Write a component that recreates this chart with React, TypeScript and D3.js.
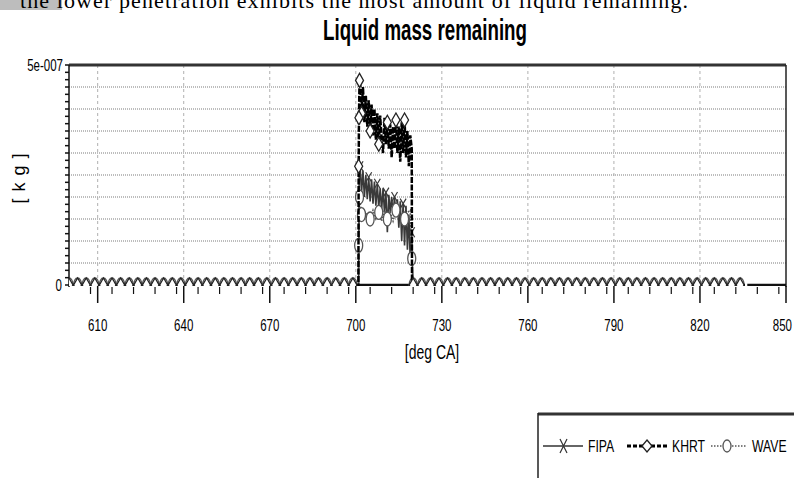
import React, { useEffect, useRef } from 'react';
import * as d3 from 'd3';

// values in 1e-7 kg, x in deg CA
const khrtPoints: [number, number][] = [
  [600, 0], [700.9, 0], [701.0, 2.7], [701.1, 3.8], [701.3, 4.65],
  [701.5, 4.6], [702, 3.9], [702.5, 4.5], [703, 3.7], [703.5, 4.3], [704, 3.6],
  [704.5, 4.2], [705, 3.5], [705.5, 4.1], [706, 3.4], [706.5, 4.0], [707, 3.3],
  [707.5, 3.9], [708, 3.2], [708.5, 3.85], [709, 3.3], [709.5, 3.0], [710, 3.8],
  [710.5, 3.2], [711, 3.7], [711.5, 3.1], [712, 3.65], [712.5, 2.9], [713, 3.6],
  [713.5, 3.1], [714, 3.75], [714.5, 3.0], [715, 3.6], [715.5, 2.8], [716, 3.7],
  [716.5, 3.0], [717, 3.75], [717.5, 2.9], [718, 3.5], [718.5, 2.7], [719, 3.4],
  [719.5, 3.1], [719.6, 0], [836, 0],
];

const fipaPoints: [number, number][] = [
  [701.0, 0], [701.2, 2.8], [701.5, 2.7], [702, 2.1], [702.5, 2.6], [703, 2.0],
  [703.5, 2.5], [704, 1.95], [704.5, 2.45], [705, 1.9], [705.5, 2.4], [706, 1.85],
  [706.5, 2.35], [707, 1.8], [707.5, 2.3], [708, 1.75], [708.5, 2.2], [709, 1.7],
  [709.5, 2.2], [710, 1.65], [710.5, 2.1], [711, 1.2], [711.5, 2.05], [712, 1.65],
  [712.5, 2.0], [713, 1.6], [713.5, 2.0], [714, 1.55], [714.5, 1.95], [715, 1.3],
  [715.5, 1.9], [716, 1.0], [716.5, 1.85], [717, 0.9], [717.5, 1.8], [718, 0.8],
  [718.5, 1.6], [719, 0.5], [719.5, 1.2], [719.8, 0.3], [720, 0],
];
// spans where FIPA sits on zero
const fipaZeroSpans: [number, number][] = [[701, 720], [836.5, 850]];

const wavePoints: [number, number][] = [
  [600, 0], [700.9, 0], [701.0, 0.9], [701.3, 2.0], [702, 1.6], [703, 1.5],
  [704, 1.65], [705, 1.5], [706, 1.7], [707, 1.5], [708, 1.65], [709, 1.45],
  [710, 1.7], [711, 1.5], [712, 1.65], [713, 1.45], [714, 1.7], [715, 1.55],
  [716, 1.6], [717, 1.5], [718, 1.65], [719, 1.7], [719.5, 0.6], [720, 0], [836, 0],
];

const xTicks = [610, 640, 670, 700, 730, 760, 790, 820, 850];
const yTickLabels = ['0', '5e-007'];
const legendItems = ['FIPA', 'KHRT', 'WAVE'];

const SANS = "'Liberation Sans', Arial, sans-serif";

export default function App() {
  const svgRef = useRef<SVGSVGElement>(null);

  useEffect(() => {
    if (!svgRef.current) return;
    const svg = d3.select(svgRef.current);
    svg.selectAll('*').remove();

    const W = 794, H = 478;
    const left = 69, right = 786, top = 65, bottom = 285;

    const x = d3.scaleLinear().domain([600, 850]).range([left, right]);
    const y = d3.scaleLinear().domain([0, 5]).range([bottom, top]);

    // condensed text: Liberation Sans squeezed horizontally
    const narrow = (g: any, tx: number, ty: number, txt: string, size: number,
      anchor = 'start', sx = 0.72, rot = 0) => {
      return g.append('text')
        .attr('transform', `translate(${tx},${ty})${rot ? ` rotate(${rot})` : ''} scale(${sx},1)`)
        .attr('text-anchor', anchor)
        .style('font-family', SANS)
        .style('font-size', `${size}px`)
        .style('fill', '#000')
        .text(txt);
    };

    svg.append('rect').attr('width', W).attr('height', H).attr('fill', '#fff');

    // document text cut off at the top
    svg.append('rect').attr('x', 0).attr('y', 0).attr('width', 62).attr('height', 10).attr('fill', '#bdbdbd');
    svg.append('text')
      .attr('x', 20).attr('y', 8)
      .attr('textLength', 668)
      .style('font-family', "'Liberation Serif', serif")
      .style('font-size', '22px')
      .style('fill', '#000')
      .text('the lower penetration exhibits the most amount of liquid remaining.');

    // title
    svg.append('text')
      .attr('x', 425).attr('y', 40)
      .attr('text-anchor', 'middle')
      .attr('textLength', 204)
      .attr('lengthAdjust', 'spacingAndGlyphs')
      .style('font-family', SANS)
      .style('font-weight', 'bold')
      .style('font-size', '30px')
      .text('Liquid mass remaining');

    // grid
    const yGrid = d3.range(1, 10).map(i => i * 0.5);
    svg.append('g').selectAll('line').data(yGrid).enter().append('line')
      .attr('x1', left).attr('x2', right)
      .attr('y1', d => y(d)).attr('y2', d => y(d))
      .attr('stroke', '#a8a8a8').attr('stroke-width', 1.5).attr('stroke-dasharray', '1,1');

    svg.append('g').selectAll('line').data(xTicks.filter(t => t < 850)).enter().append('line')
      .attr('x1', d => x(d)).attr('x2', d => x(d))
      .attr('y1', top).attr('y2', bottom)
      .attr('stroke', '#b0b0b0').attr('stroke-width', 1).attr('stroke-dasharray', '3,3');

    // borders
    svg.append('line').attr('x1', left).attr('x2', right).attr('y1', top).attr('y2', top)
      .attr('stroke', '#333').attr('stroke-width', 3);
    svg.append('line').attr('x1', right).attr('x2', right).attr('y1', top).attr('y2', bottom + 2)
      .attr('stroke', '#222').attr('stroke-width', 1.5);
    svg.append('line').attr('x1', left).attr('x2', left).attr('y1', top).attr('y2', bottom + 2)
      .attr('stroke', '#111').attr('stroke-width', 1.5);

    // y minor ticks
    const yMinor = d3.range(0, 31).map(i => i * 5 / 30);
    svg.append('g').selectAll('line').data(yMinor).enter().append('line')
      .attr('x1', left - 4).attr('x2', left)
      .attr('y1', d => y(d)).attr('y2', d => y(d))
      .attr('stroke', '#111').attr('stroke-width', 1.5);

    // x ticks
    const xMinor = d3.range(600, 850.1, 7.5).filter(v => !xTicks.includes(v) && v > 600);
    svg.append('g').selectAll('line').data(xMinor).enter().append('line')
      .attr('x1', d => x(d)).attr('x2', d => x(d))
      .attr('y1', bottom + 2).attr('y2', bottom + 9)
      .attr('stroke', '#111').attr('stroke-width', 1.2);
    svg.append('g').selectAll('line').data(xTicks).enter().append('line')
      .attr('x1', d => x(d)).attr('x2', d => x(d))
      .attr('y1', bottom + 1).attr('y2', bottom + 18)
      .attr('stroke', '#111').attr('stroke-width', 1.5);

    // tick labels (last one kept inside the page)
    xTicks.forEach((t, i) => {
      if (i === xTicks.length - 1) narrow(svg, W - 2, 331, String(t), 16, 'end');
      else narrow(svg, x(t), 331, String(t), 16, 'middle');
    });
    narrow(svg, 62, y(0) + 6, yTickLabels[0], 16, 'end');
    narrow(svg, 63, y(5) + 6, yTickLabels[1], 16, 'end');

    // axis titles
    narrow(svg, 25, 175, '[kg]', 18, 'middle', 1, -90).style('letter-spacing', '7px');
    narrow(svg, 432, 359, '[deg CA]', 20, 'middle', 0.7);

    // plot clip
    svg.append('defs').append('clipPath').attr('id', 'plotclip')
      .append('rect').attr('x', left).attr('y', top).attr('width', right - left).attr('height', bottom - top + 1);
    const plot = svg.append('g').attr('clip-path', 'url(#plotclip)');

    const line = d3.line<[number, number]>().x(d => x(d[0])).y(d => y(d[1]));

    const interp = (pts: [number, number][], deg: number) => {
      const i = d3.bisector((p: [number, number]) => p[0]).left(pts, deg);
      if (i <= 0) return pts[0][1];
      if (i >= pts.length) return pts[pts.length - 1][1];
      const a = pts[i - 1], b = pts[i];
      return a[1] + (b[1] - a[1]) * (deg - a[0]) / (b[0] - a[0]);
    };
    const markerDegs = (pts: [number, number][]) =>
      d3.range(600, 850, 3).filter(v => v >= pts[0][0] && v <= pts[pts.length - 1][0]);

    // FIPA
    fipaZeroSpans.forEach(s => {
      plot.append('path').attr('d', line([[s[0], 0], [s[1], 0]]))
        .attr('fill', 'none').attr('stroke', '#111').attr('stroke-width', 2.5);
    });
    plot.append('path').attr('d', line(fipaPoints))
      .attr('fill', 'none').attr('stroke', '#3a3a3a').attr('stroke-width', 1.6);
    fipaPoints.filter((p, i) => i % 6 === 2).forEach(p => {
      const cx = x(p[0]), cy = y(p[1]);
      plot.append('path').attr('d', `M${cx - 3},${cy - 5}L${cx + 3},${cy + 5}M${cx - 3},${cy + 5}L${cx + 3},${cy - 5}`)
        .attr('stroke', '#3a3a3a').attr('stroke-width', 1.2);
    });

    // WAVE
    plot.append('path').attr('d', line(wavePoints))
      .attr('fill', 'none').attr('stroke', '#555').attr('stroke-width', 1.5).attr('stroke-dasharray', '1.5,1.5');
    const waveMarks = markerDegs(wavePoints).concat([701.0, 701.3, 719.5]);
    plot.append('g').selectAll('ellipse').data(waveMarks).enter().append('ellipse')
      .attr('cx', d => x(d)).attr('cy', d => y(interp(wavePoints, d)))
      .attr('rx', 4).attr('ry', 7)
      .attr('fill', '#fff').attr('stroke', '#555').attr('stroke-width', 1.3);

    // KHRT
    plot.append('path').attr('d', line(khrtPoints))
      .attr('fill', 'none').attr('stroke', '#000').attr('stroke-width', 2.5).attr('stroke-dasharray', '6,1.5');
    const khrtMarks = markerDegs(khrtPoints).concat([701.0, 701.1, 701.3]);
    plot.append('g').selectAll('path.dm').data(khrtMarks).enter().append('path')
      .attr('class', 'dm')
      .attr('d', d => {
        const cx = x(d), cy = y(interp(khrtPoints, d));
        return `M${cx},${cy - 7}L${cx + 4},${cy}L${cx},${cy + 7}L${cx - 4},${cy}Z`;
      })
      .attr('fill', '#fff').attr('stroke', '#222').attr('stroke-width', 1.3);

    // legend
    const lg = svg.append('g');
    lg.append('line').attr('x1', 538).attr('x2', W).attr('y1', 414).attr('y2', 414)
      .attr('stroke', '#333').attr('stroke-width', 3);
    lg.append('line').attr('x1', 538).attr('x2', 538).attr('y1', 413).attr('y2', H)
      .attr('stroke', '#222').attr('stroke-width', 1.5);
    const ly = 446;
    // FIPA
    lg.append('line').attr('x1', 543).attr('x2', 583).attr('y1', ly).attr('y2', ly)
      .attr('stroke', '#333').attr('stroke-width', 1.5);
    lg.append('path').attr('d', `M560,${ly - 7}L567,${ly + 7}M560,${ly + 7}L567,${ly - 7}`)
      .attr('stroke', '#333').attr('stroke-width', 1.2);
    // KHRT
    lg.append('line').attr('x1', 627).attr('x2', 668).attr('y1', ly).attr('y2', ly)
      .attr('stroke', '#000').attr('stroke-width', 3).attr('stroke-dasharray', '4,2');
    lg.append('path').attr('d', `M647,${ly - 6}L652,${ly}L647,${ly + 6}L642,${ly}Z`)
      .attr('fill', '#fff').attr('stroke', '#222').attr('stroke-width', 1.3);
    // WAVE
    lg.append('line').attr('x1', 711).attr('x2', 746).attr('y1', ly).attr('y2', ly)
      .attr('stroke', '#555').attr('stroke-width', 1.5).attr('stroke-dasharray', '1.5,1.5');
    lg.append('ellipse').attr('cx', 727).attr('cy', ly).attr('rx', 4).attr('ry', 6)
      .attr('fill', '#fff').attr('stroke', '#555').attr('stroke-width', 1.3);

    const lx = [588, 672, 752];
    legendItems.forEach((t, i) => narrow(lg, lx[i], ly + 6, t, 17, 'start', 0.72));
  }, []);

  return <svg ref={svgRef} width={794} height={478} style={{ position: 'absolute', left: 0, top: 0 }} />;
}
